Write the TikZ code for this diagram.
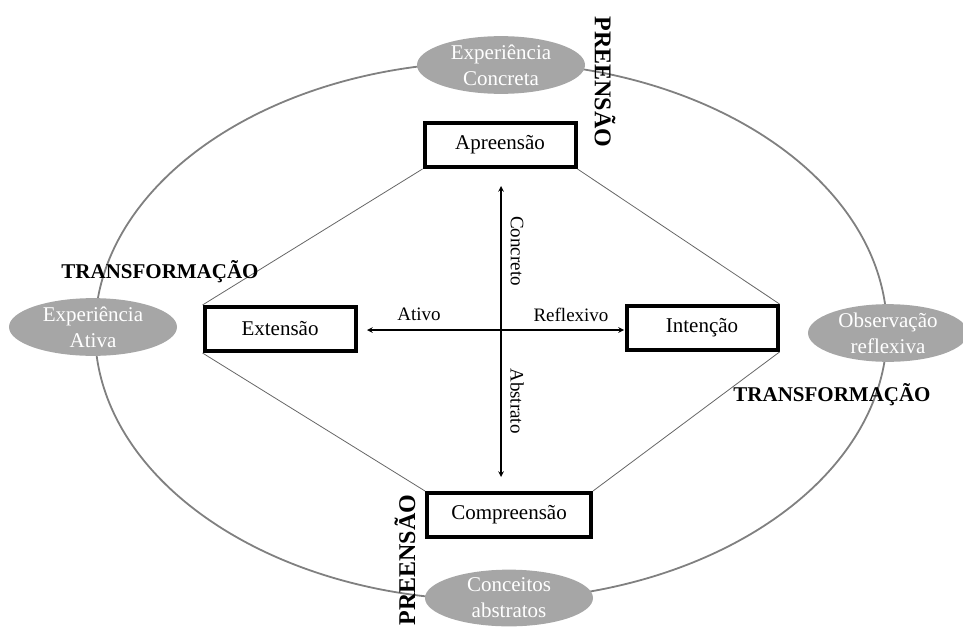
\documentclass[tikz,border=0pt]{standalone}
\usepackage{fontspec}
\setmainfont{Liberation Serif}
\usetikzlibrary{arrows,shapes.geometric}

\begin{document}
\begin{tikzpicture}[
  x=1pt, y=-1pt,
  stagenode/.style={ellipse, fill=gray!70, text=white, minimum width=168pt, minimum height=56pt, inner sep=0pt, align=center, font=\fontsize{21}{26}\selectfont},
  modenode/.style={draw, rectangle, line width=4pt, minimum width=151pt, minimum height=44pt, fill=white, font=\fontsize{21}{25}\selectfont},
  orbit/.style={draw=black!50, line width=1.8pt},
  link/.style={draw=black!60, line width=0.8pt},
  axislabel/.style={font=\fontsize{19}{23}\selectfont},
  boldlabel/.style={font=\bfseries\fontsize{21}{25}\selectfont}
]
\useasboundingbox (0,0) rectangle (963,626);

% Outer learning cycle
\draw[orbit] (491,331) ellipse [x radius=396, y radius=269];

% Stages of the cycle
\node[stagenode] (ce) at (501,65) {Experiência\\Concreta};
\node[stagenode] (ea) at (93,327) {Experiência\\Ativa};
\node[stagenode, minimum width=160pt] (or) at (888,333) {Observação\\reflexiva};
\node[stagenode] (ca) at (509,598) {Conceitos\\abstratos};

% Knowledge forms
\node[modenode] (apr) at (500,145) {Apreensão};
\node[modenode] (ext) at (280,329) {Extensão};
\node[modenode] (int) at (702,328) {Intenção};
\node[modenode, minimum width=164pt] (comp) at (509,515) {Compreensão};

% Diamond links
\draw[link] (apr.south west) -- (ext.north west);
\draw[link] (ext.south west) -- (comp.north west);
\draw[link] (apr.south east) -- (int.north east);
\draw[link] (int.south east) -- (comp.north east);

% Axes
\coordinate (concreto) at (501,186);
\coordinate (abstrato) at (501,477);
\coordinate (ativo) at (367,330);
\coordinate (reflexivo) at (624,330);
\draw[<->, >=stealth, line width=1.5pt] (concreto) -- (abstrato);
\draw[<->, >=stealth, line width=1.5pt] (ativo) -- (reflexivo);

\node[axislabel, rotate=-90] (lconc) at (517,251) {Concreto};
\node[axislabel, rotate=-90] (labs) at (517,401) {Abstrato};
\node[axislabel] (lativ) at (419,314) {Ativo};
\node[axislabel] (lrefl) at (571,315) {Reflexivo};

% Dimension labels
\node[boldlabel, font=\bfseries\fontsize{24}{28}\selectfont, rotate=-90] (pretop) at (605,82) {PREENSÃO};
\node[boldlabel, font=\bfseries\fontsize{24}{28}\selectfont, rotate=90] (prebot) at (405,560) {PREENSÃO};
\node[boldlabel] (trleft) at (160,272) {TRANSFORMAÇÃO};
\node[boldlabel] (trright) at (832,395) {TRANSFORMAÇÃO};
\end{tikzpicture}
\end{document}
